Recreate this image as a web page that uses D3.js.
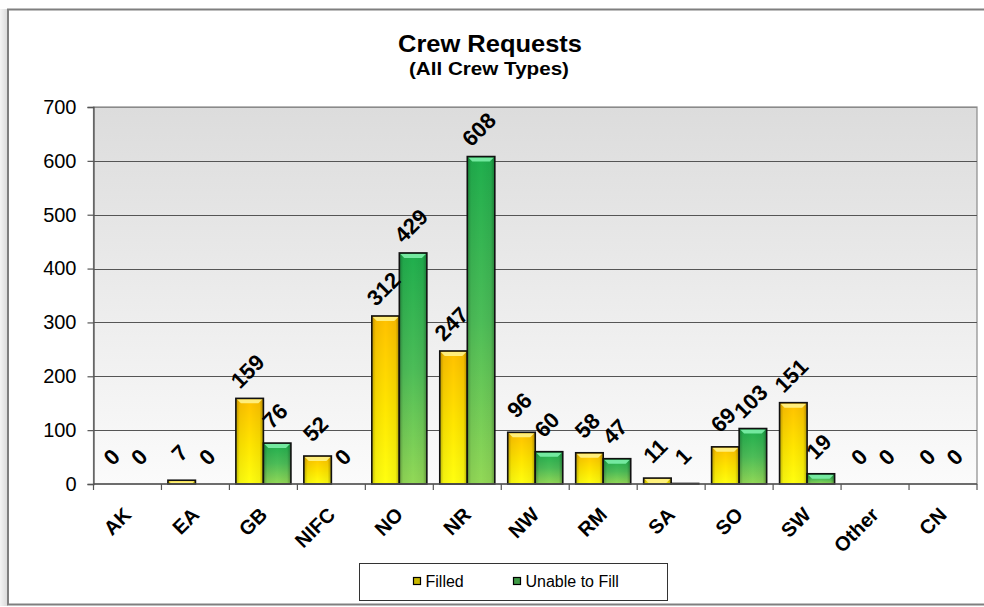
<!DOCTYPE html>
<html>
<head>
<meta charset="utf-8">
<script src="https://cdn.jsdelivr.net/npm/d3@7"></script>
<style>
  html, body { margin: 0; padding: 0; background: #ffffff; }
  svg { display: block; font-family: "Liberation Sans", Arial, sans-serif; }
</style>
</head>
<body>
<svg id="chart" width="984" height="607"></svg>
<script>
// ---- data ----
const categories = ["AK", "EA", "GB", "NIFC", "NO", "NR", "NW", "RM", "SA", "SO", "SW", "Other", "CN"];
const seriesNames = ["Filled", "Unable to Fill"];
const filled = [0, 7, 159, 52, 312, 247, 96, 58, 11, 69, 151, 0, 0];
const unableToFill = [0, 0, 76, 0, 429, 608, 60, 47, 1, 103, 19, 0, 0];
const yTicks = [0, 100, 200, 300, 400, 500, 600, 700];
const titleText = "Crew Requests";
const subtitleText = "(All Crew Types)";

const seriesValues = [filled, unableToFill];

const svg = d3.select("#chart");

const plot = { left: 93.5, right: 977, top: 107, bottom: 484 };

// ---- defs ----
const defs = svg.append("defs");
function linGrad(id, stops, x2, y2) {
  const g = defs.append("linearGradient").attr("id", id)
    .attr("x1", 0).attr("y1", 0).attr("x2", x2).attr("y2", y2);
  stops.forEach(s => g.append("stop").attr("offset", s[0]).attr("stop-color", s[1]).attr("stop-opacity", s[2] === undefined ? 1 : s[2]));
}
linGrad("plotBg", [[0, "#dcdcdc"], [1, "#fbfbfb"]], 0, 1);
linGrad("gFilled", [[0, "#ffc000"], [0.55, "#ffe600"], [1, "#ffff10"]], 0, 1);
linGrad("gUnable", [[0, "#1fae4d"], [0.5, "#4cbd58"], [1, "#93d957"]], 0, 1);
linGrad("edgeShade", [[0, "#000", 0.28], [0.14, "#000", 0.05], [0.5, "#000", 0], [0.86, "#000", 0.05], [1, "#000", 0.32]], 1, 0);
linGrad("frameShadow", [[0, "#f4f4f4"], [1, "#d8d8d8"]], 1, 0);
const fills = ["url(#gFilled)", "url(#gUnable)"];
const highlights = ["#fff38a", "#7cf0a8"];
const legendColors = ["#c9b800", "#3f9a45"];

// ---- frame ----
svg.append("rect").attr("x", 0).attr("y", 9).attr("width", 8).attr("height", 597).attr("fill", "url(#frameShadow)");
svg.append("rect").attr("x", 8).attr("y", 9.5).attr("width", 990).attr("height", 595)
  .attr("fill", "#ffffff").attr("stroke", "#7f7f7f").attr("stroke-width", 2);

// ---- scales ----
const x = d3.scaleBand().domain(categories).range([plot.left, plot.right]).padding(0);
const bw = x.bandwidth();
const x1 = d3.scaleBand().domain(seriesNames).range([bw * 0.095, bw * 0.905]).padding(0);
const y = d3.scaleLinear().domain([0, 700]).range([plot.bottom, plot.top]);

// ---- plot background ----
svg.append("rect").attr("x", plot.left).attr("y", plot.top)
  .attr("width", plot.right - plot.left).attr("height", plot.bottom - plot.top)
  .attr("fill", "url(#plotBg)").attr("stroke", "#8a8a8a").attr("stroke-width", 1.2);

// gridlines
svg.append("g").selectAll("line").data(yTicks.filter(t => t > 0)).join("line")
  .attr("x1", plot.left).attr("x2", plot.right)
  .attr("y1", d => Math.round(y(d)) + 0.5).attr("y2", d => Math.round(y(d)) + 0.5)
  .attr("stroke", d => d === 700 ? "#8a8a8a" : "#555555").attr("stroke-width", 1);

// ---- y axis ----
const yAxis = svg.append("g").attr("transform", `translate(${plot.left},0)`)
  .call(d3.axisLeft(y).tickValues(yTicks).tickSize(6).tickPadding(11).tickFormat(d3.format("d")));
yAxis.select(".domain").attr("stroke", "#555555").attr("stroke-width", 1.3);
yAxis.selectAll(".tick line").attr("stroke", "#555555").attr("stroke-width", 1.2);
yAxis.selectAll(".tick text").attr("font-size", 20).attr("fill", "#000").attr("font-family", "Liberation Sans, Arial, sans-serif");

// ---- bars ----
const barData = [];
categories.forEach((c, i) => {
  seriesNames.forEach((s, j) => {
    barData.push({ cat: c, series: s, j: j, value: seriesValues[j][i] });
  });
});

const barG = svg.append("g");
barData.filter(d => d.value > 0).forEach(d => {
  const bx = x(d.cat) + x1(d.series);
  const w = x1.bandwidth();
  const top = y(d.value);
  const h = plot.bottom - top;
  const g = barG.append("g");
  g.append("rect").attr("x", bx).attr("y", top).attr("width", w).attr("height", h).attr("fill", fills[d.j]);
  g.append("rect").attr("x", bx).attr("y", top).attr("width", w).attr("height", h).attr("fill", "url(#edgeShade)");
  const hh = Math.min(5, h);
  if (h > 3) {
    const ins = Math.min(5, hh);
    g.append("polygon")
      .attr("points", [[bx + 1, top + 1], [bx + w - 1, top + 1], [bx + w - ins, top + hh], [bx + ins, top + hh]].map(p => p.join(",")).join(" "))
      .attr("fill", highlights[d.j]).attr("opacity", 0.9);
  }
  g.append("rect").attr("x", bx).attr("y", top).attr("width", w).attr("height", h)
    .attr("fill", "none").attr("stroke", "#111").attr("stroke-width", 1.6);
});

// ---- x axis ----
svg.append("line").attr("x1", plot.left).attr("x2", plot.right).attr("y1", plot.bottom).attr("y2", plot.bottom)
  .attr("stroke", "#555555").attr("stroke-width", 1.4);
const boundaries = categories.map(c => x(c)).concat([plot.right]);
svg.append("g").selectAll("line").data(boundaries).join("line")
  .attr("x1", d => d).attr("x2", d => d).attr("y1", plot.bottom).attr("y2", plot.bottom + 6)
  .attr("stroke", "#555555").attr("stroke-width", 1.2);

svg.append("g").selectAll("text").data(categories).join("text")
  .attr("transform", d => `translate(${x(d) + bw / 2 + 5},516) rotate(-45)`)
  .attr("text-anchor", "end")
  .attr("font-size", 20).attr("font-weight", "bold").attr("fill", "#000")
  .text(d => d);

// ---- data labels ----
svg.append("g").selectAll("text").data(barData).join("text")
  .attr("transform", d => `translate(${x(d.cat) + x1(d.series) + x1.bandwidth() / 2 - 2},${y(d.value) - 27}) rotate(-45)`)
  .attr("text-anchor", "middle").attr("dominant-baseline", "central")
  .attr("font-size", 22).attr("font-weight", "bold").attr("fill", "#000")
  .text(d => d.value);

// ---- title ----
svg.append("text").attr("x", 490).attr("y", 52).attr("text-anchor", "middle")
  .attr("font-size", 24).attr("font-weight", "bold").attr("fill", "#000")
  .attr("textLength", 184).attr("lengthAdjust", "spacingAndGlyphs")
  .text(titleText);
svg.append("text").attr("x", 489).attr("y", 75).attr("text-anchor", "middle")
  .attr("font-size", 18).attr("font-weight", "bold").attr("fill", "#000")
  .attr("textLength", 160).attr("lengthAdjust", "spacingAndGlyphs")
  .text(subtitleText);

// ---- legend ----
const lg = svg.append("g");
lg.append("rect").attr("x", 359.5).attr("y", 563.5).attr("width", 308).attr("height", 37)
  .attr("fill", "#fff").attr("stroke", "#333").attr("stroke-width", 1);
const legendX = [413, 513];
seriesNames.forEach((s, j) => {
  lg.append("rect").attr("x", legendX[j] + 0.5).attr("y", 577.5).attr("width", 7).attr("height", 7)
    .attr("fill", legendColors[j]).attr("stroke", "#000").attr("stroke-width", 1.2);
  lg.append("text").attr("x", legendX[j] + 12.5).attr("y", 587).attr("font-size", 16).attr("fill", "#000").text(s);
});
</script>
</body>
</html>
